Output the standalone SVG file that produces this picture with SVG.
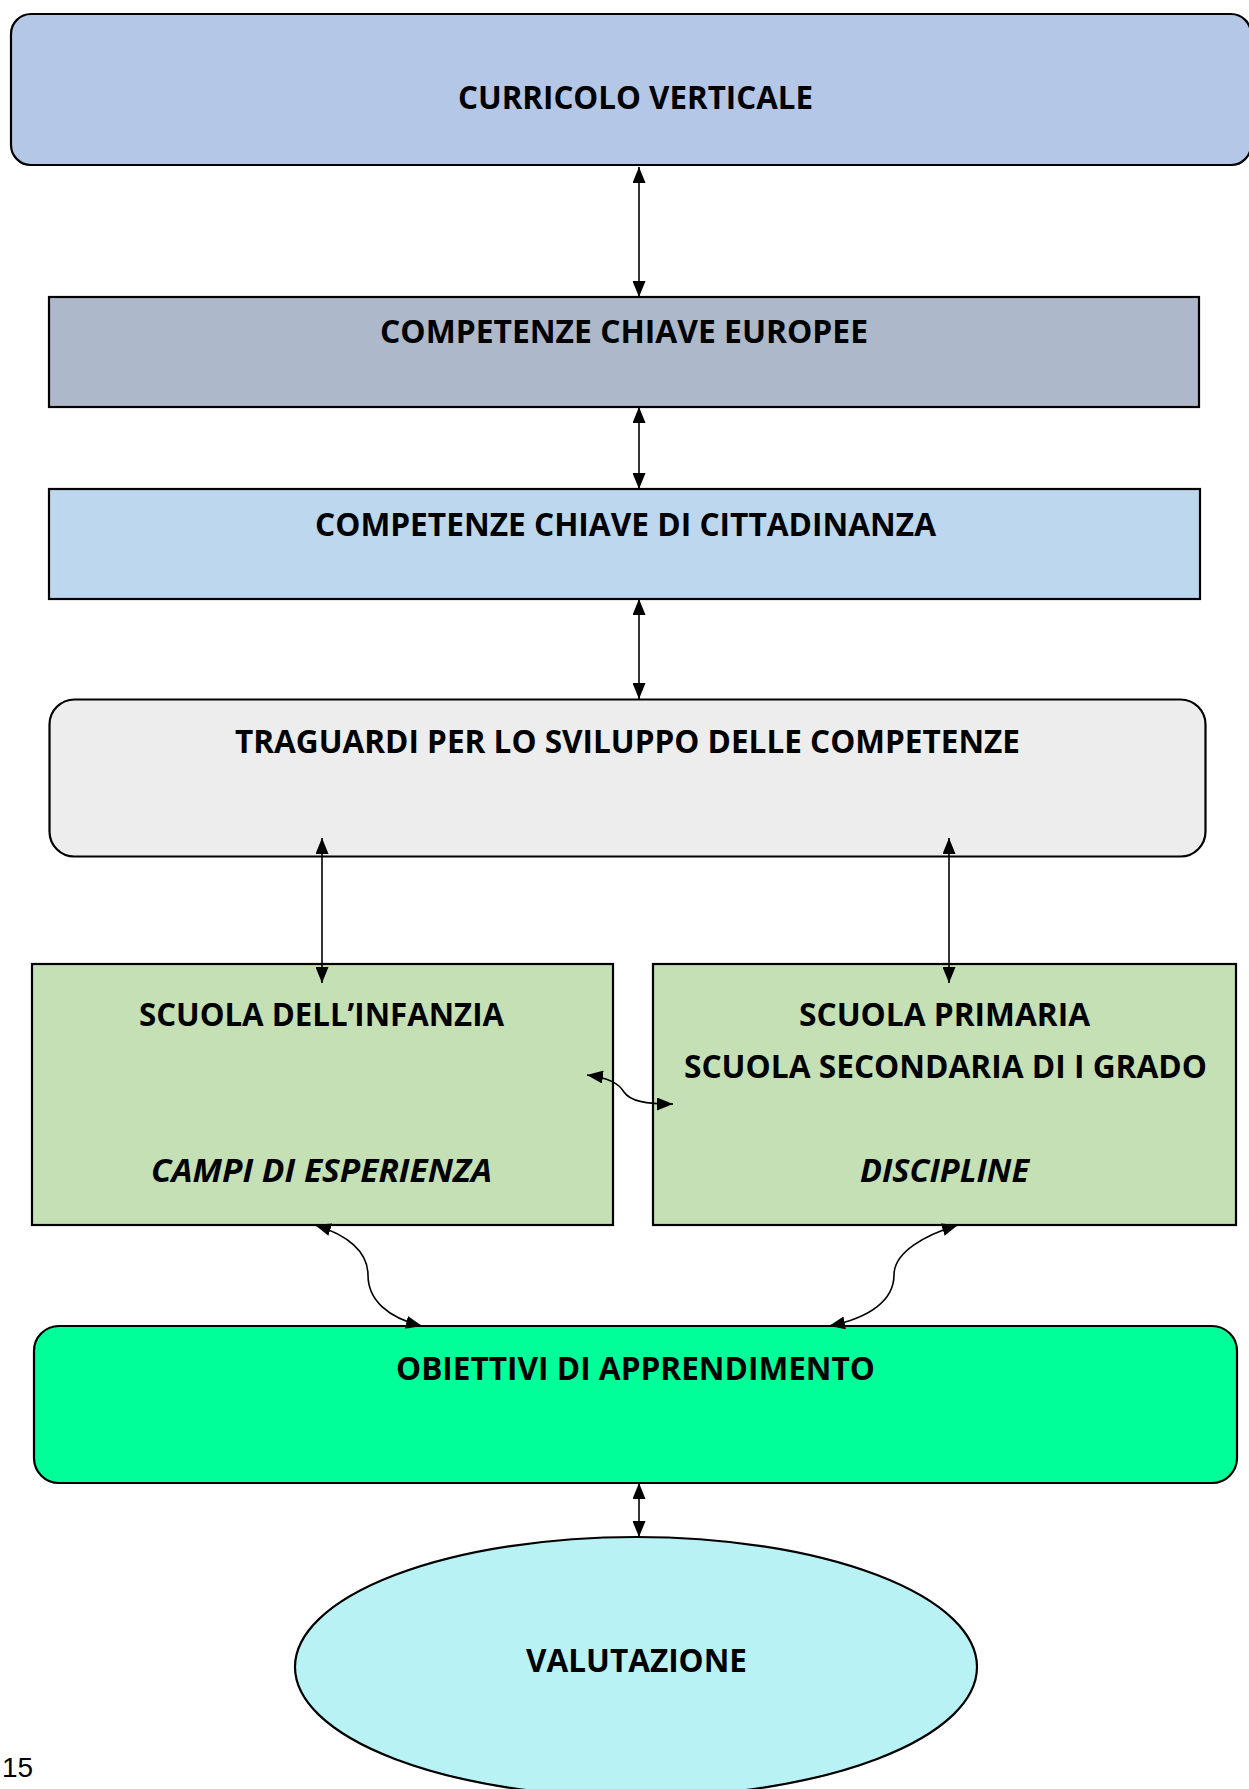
<svg xmlns="http://www.w3.org/2000/svg" width="1249" height="1789" viewBox="0 0 1249 1789">
  <style>
    .box { stroke: #000; stroke-width: 2.2; }
    .lbl { font-family: "Open Sans", "Liberation Sans", sans-serif; font-weight: bold; font-size: 32px; fill: #000; }
    .it { font-style: italic; }
    .link { fill: none; stroke: #000; stroke-width: 1.6; }
    .pg { font-family: "Liberation Sans", Arial, sans-serif; font-size: 28px; fill: #000; }
  </style>
  <defs>
    <marker id="arrow" viewBox="0 0 16 13" refX="16" refY="6.5" markerWidth="16" markerHeight="13" markerUnits="userSpaceOnUse" orient="auto-start-reverse">
      <path d="M0,0 L16,6.5 L0,13 Z" fill="#000"/>
    </marker>
  </defs>

  <rect width="1249" height="1789" fill="#fff"/>

  <g id="curricolo-verticale">
    <rect class="box" x="11" y="14" width="1240" height="151" rx="20" fill="#B4C7E7"/>
    <text class="lbl" x="458" y="109" textLength="355" lengthAdjust="spacingAndGlyphs">CURRICOLO VERTICALE</text>
  </g>

  <g id="competenze-europee">
    <rect class="box" x="49" y="297" width="1150" height="110" fill="#ADB9CA"/>
    <text class="lbl" x="380" y="343" textLength="488" lengthAdjust="spacingAndGlyphs">COMPETENZE CHIAVE EUROPEE</text>
  </g>

  <g id="competenze-cittadinanza">
    <rect class="box" x="49" y="489" width="1151" height="110" fill="#BDD7EE"/>
    <text class="lbl" x="315" y="536" textLength="621" lengthAdjust="spacingAndGlyphs">COMPETENZE CHIAVE DI CITTADINANZA</text>
  </g>

  <g id="traguardi">
    <rect class="box" x="49.5" y="699.5" width="1156" height="157" rx="25" fill="#EDEDED"/>
    <text class="lbl" x="235" y="753" textLength="785" lengthAdjust="spacingAndGlyphs">TRAGUARDI PER LO SVILUPPO DELLE COMPETENZE</text>
  </g>

  <g id="scuola-infanzia">
    <rect class="box" x="32" y="964" width="581" height="261" fill="#C5E0B4"/>
    <text class="lbl" x="139" y="1026" textLength="365" lengthAdjust="spacingAndGlyphs">SCUOLA DELL’INFANZIA</text>
    <text class="lbl it" x="151" y="1182" textLength="341" lengthAdjust="spacingAndGlyphs">CAMPI DI ESPERIENZA</text>
  </g>

  <g id="scuola-primaria-secondaria">
    <rect class="box" x="653" y="964" width="583" height="261" fill="#C5E0B4"/>
    <text class="lbl" x="799" y="1026" textLength="291" lengthAdjust="spacingAndGlyphs">SCUOLA PRIMARIA</text>
    <text class="lbl" x="684" y="1078" textLength="523" lengthAdjust="spacingAndGlyphs">SCUOLA SECONDARIA DI I GRADO</text>
    <text class="lbl it" x="860" y="1182" textLength="169" lengthAdjust="spacingAndGlyphs">DISCIPLINE</text>
  </g>

  <g id="obiettivi">
    <rect class="box" x="34" y="1326" width="1203" height="157" rx="25" fill="#00FF99"/>
    <text class="lbl" x="396" y="1380" textLength="479" lengthAdjust="spacingAndGlyphs">OBIETTIVI DI APPRENDIMENTO</text>
  </g>

  <g id="valutazione">
    <ellipse class="box" cx="636" cy="1667" rx="341" ry="130" fill="#B9F2F4"/>
    <text class="lbl" x="526" y="1672" textLength="221" lengthAdjust="spacingAndGlyphs">VALUTAZIONE</text>
  </g>

  <g id="connectors">
    <path class="link" d="M639,167 L639,297" marker-start="url(#arrow)" marker-end="url(#arrow)"/>
    <path class="link" d="M639,407 L639,489" marker-start="url(#arrow)" marker-end="url(#arrow)"/>
    <path class="link" d="M639,599 L639,699" marker-start="url(#arrow)" marker-end="url(#arrow)"/>
    <path class="link" d="M322,838 L322,983" marker-start="url(#arrow)" marker-end="url(#arrow)"/>
    <path class="link" d="M949,838 L949,983" marker-start="url(#arrow)" marker-end="url(#arrow)"/>
    <path class="link" d="M587,1075 C610,1078 619,1084 624,1092 C630,1101 645,1104 673,1104" marker-start="url(#arrow)" marker-end="url(#arrow)"/>
    <path class="link" d="M315,1225 C348,1235 368,1252 368,1275 C368,1300 388,1318 422,1326" marker-start="url(#arrow)" marker-end="url(#arrow)"/>
    <path class="link" d="M958,1225 C925,1235 894,1252 894,1275 C894,1300 870,1318 829,1326" marker-start="url(#arrow)" marker-end="url(#arrow)"/>
    <path class="link" d="M639,1483 L639,1537" marker-start="url(#arrow)" marker-end="url(#arrow)"/>
  </g>

  <text class="pg" x="2" y="1777">15</text>
</svg>
